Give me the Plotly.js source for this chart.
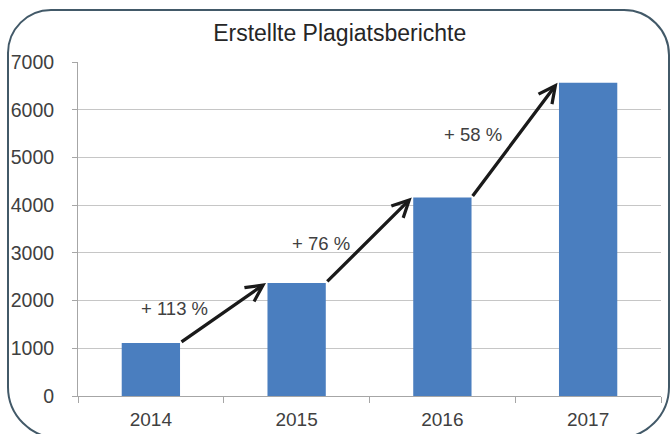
<!DOCTYPE html>
<html>
<head>
<meta charset="utf-8">
<script src="https://cdn.plot.ly/plotly-3.0.1.min.js"></script>
<style>
  html, body { margin: 0; padding: 0; background: #ffffff; }
  #wrap { position: relative; width: 670px; height: 434px; overflow: hidden; }
  #frame {
    position: absolute; left: 7px; top: 9px; width: 663px; height: 430px;
    box-sizing: border-box; border: 2.5px solid #425968;
    border-radius: 44px 46px 52px 52px;
  }
  #chart { position: absolute; left: 0; top: 0; width: 670px; height: 434px; }
</style>
</head>
<body>
<div id="wrap">
  <div id="frame"></div>
  <div id="chart"></div>
</div>
<script>
// Data
const years = ["2014", "2015", "2016", "2017"];
const reports = [1113, 2370, 4160, 6565];
const growthLabels = ["+ 113 %", "+ 76 %", "+ 58 %"];
const yTicks = [0, 1000, 2000, 3000, 4000, 5000, 6000, 7000];

const FONT = "Liberation Sans, Arial, sans-serif";
const TXT = "#404040";

// label offsets (pixels) from each arrow's midpoint
const labelShiftX = [-49, -48, -42];
const labelShiftY = [4, -3, 6];

const annotations = [];
for (let i = 0; i < reports.length - 1; i++) {
  const x0 = i + 0.2, y0 = reports[i];
  const x1 = i + 1 - 0.21, y1 = reports[i + 1];
  annotations.push({
    x: x1, y: y1, xref: "x", yref: "y",
    ax: x0, ay: y0, axref: "x", ayref: "y",
    showarrow: true, arrowhead: 5, arrowsize: 1, arrowwidth: 3.3,
    arrowcolor: "#1a1a1a", standoff: 0, startstandoff: 0, text: ""
  });
  annotations.push({
    x: (x0 + x1) / 2, y: (y0 + y1) / 2, xref: "x", yref: "y",
    text: growthLabels[i], showarrow: false,
    xshift: labelShiftX[i], yshift: labelShiftY[i],
    font: { family: FONT, size: 18.5, color: TXT }
  });
}

const data = [{
  type: "bar",
  x: years,
  y: reports,
  marker: { color: "#4a7ebf" },
  hoverinfo: "skip"
}];

const layout = {
  width: 670, height: 434,
  margin: { l: 77.5, r: 8.5, t: 62, b: 37.5, pad: 0 },
  paper_bgcolor: "rgba(0,0,0,0)",
  plot_bgcolor: "rgba(0,0,0,0)",
  showlegend: false,
  bargap: 0.6,
  title: {
    text: "Erstellte Plagiatsberichte",
    x: 0.507, xanchor: "center", xref: "container",
    y: 0.924, yanchor: "middle", yref: "container",
    font: { family: FONT, size: 23, color: "#262626" }
  },
  xaxis: {
    type: "category",
    showline: true, linecolor: "#a6a6a6", linewidth: 1,
    ticks: "outside", tickson: "boundaries", ticklen: 6, tickcolor: "#a6a6a6",
    ticklabelstandoff: 6,
    showgrid: false, zeroline: false,
    tickfont: { family: FONT, size: 19, color: TXT }
  },
  yaxis: {
    range: [0, 7000],
    tickvals: yTicks,
    ticktext: yTicks.map(String),
    showline: true, linecolor: "#a6a6a6", linewidth: 1,
    ticks: "outside", ticklen: 5, tickcolor: "#a6a6a6",
    ticklabelstandoff: 14,
    showgrid: true, gridcolor: "#c6c6c6", gridwidth: 1,
    zeroline: false,
    tickfont: { family: FONT, size: 19.5, color: TXT }
  },
  annotations: annotations
};

Plotly.newPlot("chart", data, layout, { staticPlot: true, displayModeBar: false });
</script>
</body>
</html>
